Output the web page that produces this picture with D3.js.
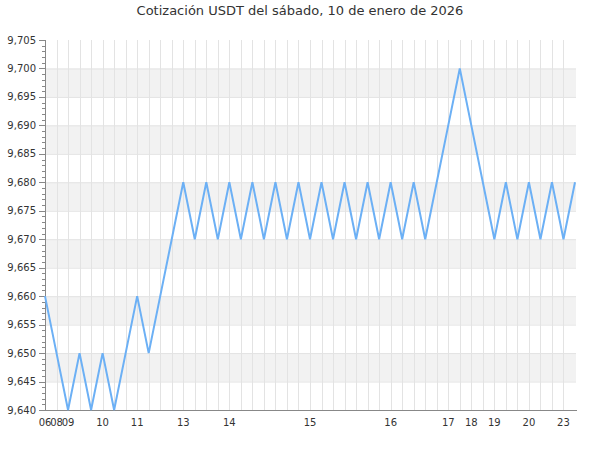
<!DOCTYPE html>
<html>
<head>
<meta charset="utf-8">
<script src="https://cdn.jsdelivr.net/npm/d3@7"></script>
<style>
  body { margin: 0; background: #fff; }
  text { font-family: "DejaVu Sans", sans-serif; fill: #333; }
</style>
</head>
<body>
<svg id="chart" width="600" height="450"></svg>
<script>
// hour of each quote (label shown when the hour changes)
var hours = ["06","08","09","09","09","10","10","10","11","11",
             "11","11","13","13","13","13","14","14","14","14",
             "14","14","14","15","15","15","15","15","15","15",
             "16","16","16","16","16","17","17","18","18","19",
             "19","19","20","20","20","23","23"];
var prices = [9.660,9.650,9.640,9.650,9.640,9.650,9.640,9.650,9.660,9.650,
              9.660,9.670,9.680,9.670,9.680,9.670,9.680,9.670,9.680,9.670,
              9.680,9.670,9.680,9.670,9.680,9.670,9.680,9.670,9.680,9.670,
              9.680,9.670,9.680,9.670,9.680,9.690,9.700,9.690,9.680,9.670,
              9.680,9.670,9.680,9.670,9.680,9.670,9.680];
var yMin = 9.640, yMax = 9.705;
var title = "Cotización USDT del sábado, 10 de enero de 2026";

var margin = {top: 40, right: 24, bottom: 40, left: 45};
var width = 600 - margin.left - margin.right,
    height = 450 - margin.top - margin.bottom;

var svg = d3.select("#chart");

svg.append("text")
    .attr("x", 300)
    .attr("y", 15)
    .attr("text-anchor", "middle")
    .style("font-size", "13px")
    .text(title);

var g = svg.append("g")
    .attr("transform", "translate(" + margin.left + "," + margin.top + ")");

var idx = d3.range(prices.length);
var x = d3.scalePoint()
    .domain(idx)
    .range([0, width - 1]);

var y = d3.scaleLinear()
    .domain([yMin, yMax])
    .range([height, 0]);

var majors = d3.range(0, 14).map(function(i) { return +(yMin + i * 0.005).toFixed(3); });
var minors = d3.range(0, 66).map(function(i) { return +(yMin + i * 0.001).toFixed(3); });

// alternating bands
g.selectAll(".band")
  .data(majors.filter(function(d, i) { return i < majors.length - 1 && i % 2 == 1; }))
  .join("rect")
    .attr("x", 0)
    .attr("y", function(d) { return y(d + 0.005); })
    .attr("width", width)
    .attr("height", function(d) { return y(d) - y(d + 0.005); })
    .style("fill", "#f2f2f2");

// grid
g.selectAll(".hgrid")
  .data(majors.slice(1, -1))
  .join("line")
    .attr("x1", 0).attr("x2", width)
    .attr("y1", function(d) { return y(d) + 0.5; })
    .attr("y2", function(d) { return y(d) + 0.5; })
    .style("stroke", "#e3e3e3");

g.selectAll(".vgrid")
  .data(idx.slice(1, -1))
  .join("line")
    .attr("x1", function(d) { return Math.round(x(d)) + 0.5; })
    .attr("x2", function(d) { return Math.round(x(d)) + 0.5; })
    .attr("y1", 0).attr("y2", height)
    .style("stroke", "#e3e3e3");

// y axis
var yAxis = g.append("g");
yAxis.selectAll(".minor")
  .data(minors)
  .join("line")
    .attr("x1", -3).attr("x2", 0)
    .attr("y1", function(d) { return Math.round(y(d)) + 0.5; })
    .attr("y2", function(d) { return Math.round(y(d)) + 0.5; })
    .style("stroke", "#888");
yAxis.selectAll(".major")
  .data(majors)
  .join("line")
    .attr("x1", -6).attr("x2", 0)
    .attr("y1", function(d) { return Math.round(y(d)) + 0.5; })
    .attr("y2", function(d) { return Math.round(y(d)) + 0.5; })
    .style("stroke", "#888");
yAxis.selectAll("text")
  .data(majors)
  .join("text")
    .attr("x", -9)
    .attr("y", function(d) { return y(d); })
    .attr("dy", "0.35em")
    .attr("text-anchor", "end")
    .style("font-size", "10px")
    .text(function(d) { return d.toFixed(3).replace(".", ","); });
yAxis.append("line")
    .attr("x1", 0.5).attr("x2", 0.5)
    .attr("y1", 0).attr("y2", height)
    .style("stroke", "#888");

// x axis
var xAxis = g.append("g");
xAxis.append("line")
    .attr("x1", 0).attr("x2", width + 1)
    .attr("y1", height + 0.5).attr("y2", height + 0.5)
    .style("stroke", "#888");
xAxis.selectAll("text")
  .data(idx.filter(function(i) { return i == 0 || hours[i] != hours[i - 1]; }))
  .join("text")
    .attr("x", function(d) { return x(d); })
    .attr("y", height + 16)
    .attr("text-anchor", "middle")
    .style("font-size", "10px")
    .text(function(d) { return hours[d]; });

// price line
var line = d3.line()
    .x(function(d, i) { return x(i); })
    .y(function(d) { return y(d); });

g.append("path")
    .datum(prices)
    .attr("d", line)
    .style("fill", "none")
    .style("stroke", "#6cb0f5")
    .style("stroke-width", 2);
</script>
</body>
</html>
